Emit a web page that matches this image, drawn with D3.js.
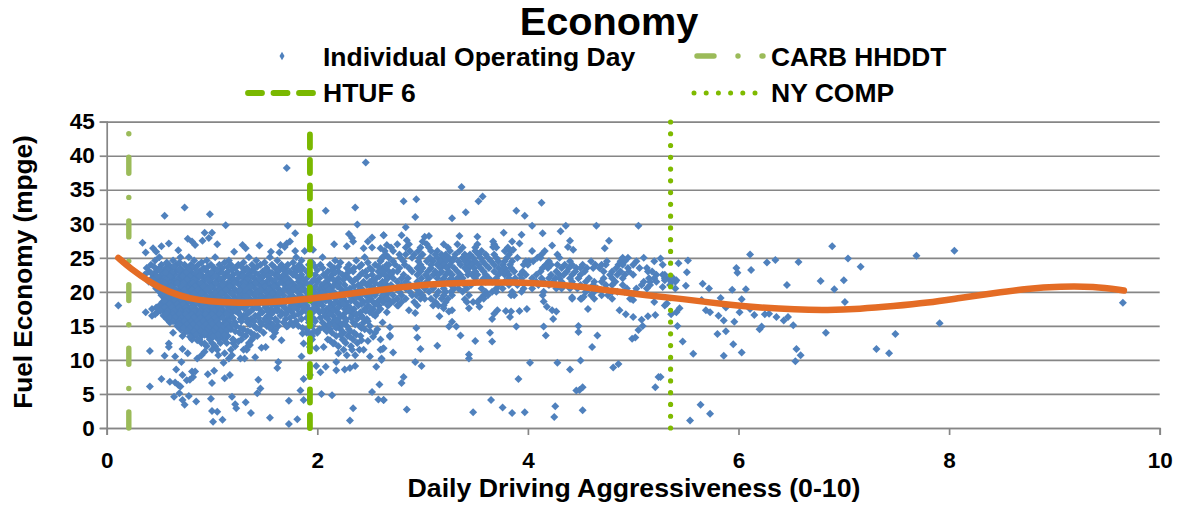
<!DOCTYPE html>
<html><head><meta charset="utf-8">
<script src="https://cdn.jsdelivr.net/npm/d3@7"></script>
<style>html,body{margin:0;background:#fff}svg{display:block}text{font-family:"Liberation Sans",Arial,sans-serif;font-weight:bold;fill:#000}</style>
</head><body><svg id="c" width="1181" height="506"></svg>
<script>
const xTicks=[0,2,4,6,8,10];
const yTicks=[0,5,10,15,20,25,30,35,40,45];
// Scattered operating days: [aggressiveness, mpge]
const outlierDays=[[.11,18],[1.71,38.2],[2.46,39],[.74,32.4],[.55,31.2],[.98,31.4],[2.08,31.9],[2.36,32.4],[1.13,29.8],[1.72,29.7],[2.38,29.9],[.93,28.7],[1,28.7],[1.79,28.6],[.77,27.8],[.97,27.9],[.91,27.5],[.34,27.2],[.59,27.1],[.52,26.7],[.81,27.4],[.84,26.9],[1.05,27],[.44,26.4],[.47,25.9],[.37,25.8],[.68,26.1],[1.29,26.9],[1.32,26.4],[1.45,26.8],[1.21,25.9],[1.65,26.9],[1.71,27.1],[1.74,27.4],[1.69,26.6],[1.56,25.9],[1.64,25.8],[1.79,26],[1.88,26],[1.96,26.2],[2.16,27],[2.28,26.7],[2.3,28.5],[2.34,27.4],[2.33,27.9],[2.52,28],[2.48,27.4],[2.63,28.3],[2.44,26.4],[2.52,26.5],[2.6,26.4],[2.66,26.9],
[.41,11.3],[.55,10.6],[.59,12.4],[.59,11.9],[.65,10.5],[.72,11.6],[.77,11],[.71,9.7],[.66,8.6],[.52,7.2],[.41,6.1],[.6,6.8],[.65,6.7],[.68,6.3],[.7,6.1],[.72,7.8],[.81,8.3],[.84,8.3],[.82,7.5],[.79,7.1],[.76,7],[.64,4.6],[.69,5.1],[.72,4.1],[.74,3.4],[.78,4.7],[.85,3.9],[.96,7.9],[1.02,8.4],[1,6.6],[.99,4.3],[1,2.5],[1.05,2.4],[1.01,.9],[1.1,1.2],[1.12,7.3],[1.17,7.8],[1.19,4.6],[1.22,3.5],[1.23,2.9],[1.32,3.8],[1.37,2.2],[1.55,1.5],[1.44,7.1],[1.46,5.8],[1.43,5.1],[1.62,8.8],[1.63,9.7],[1.73,4],[1.73,.6],[1.81,1.3],[1.84,5.5],[1.87,7.2],[1.87,4.1],[1.93,7.8],[2.04,5],[2.14,4.8],[1.99,9.1],[2.03,8.2],[2.08,9],[2.18,8.5],[2.18,9.7],[2.26,8.6],[2.31,8.8],[2.36,9.1],[2.52,5.3],[2.59,6.4],[2.56,9],[2.58,4.2],[2.63,4.1],[2.34,2.9],[2.31,1.1],
[1.11,9.6],[1.16,10.2],[1.19,10.7],[1.12,11],[1.06,10.7],[1.27,10.2],[1.31,10.2],[1.41,10.4],[1.47,11.8],[1.51,11.9],[1.36,12.2],[1.39,13.3],[1.33,11.5],[1.25,12.7],[1.28,13],[1.2,13],[.86,10.2],[.9,10.7],[.93,11.2],[1,11.5],[.93,12.4],[1.01,13.4],[.93,13.9],[.86,12.9],[.79,13.4],[1.85,10.5],[1.87,12.4],[1.86,13.9],[1.93,13.9],[1.99,11.7],[2.06,11.9],[1.93,11.9],[1.66,12.9],[1.58,13.4],[1.49,14],[1.77,15.1],[1.71,14.9],[1.6,14.4],[2.12,12.9],[2.15,12.4],[2.2,11],[2.28,10.7],[2.33,11.5],[2.36,10.7],[2.17,14.9],[2.25,12.9],[2.31,13.4],[2.44,11.5],[2.42,12.9],[2.48,12.8],[2.53,13.4],[2.5,10.5],[2.6,11.5],[2.63,11.7],[2.61,10.2],[2.69,13.4]];
const middleDays=[[3.37,35.4],[2.82,33.3],[2.94,33.6],[3.53,33.3],[3.57,34],[3.41,31.7],[4.13,33.1],[3.89,31.9],[3.97,31.2],[2.93,31],[3.28,30.8],[2.84,29.5],[4.04,29.7],[4.36,29.7],[4.31,28.9],[4.65,29.7],[5.05,29.7],[2.63,28.3],[2.8,28.3],[2.85,27.6],[3.02,28.1],[3.06,28.2],[3,27.4],[3.35,28.2],[3.52,28.1],[3.77,28.7],[3.94,28.4],[4.14,28.6],[4.77,27.5],[4.4,27.5],[4.23,26.8],[4.38,26.6],[4.43,26.2],[4.73,26.4],[3.85,27.4],[3.92,27.1],[3.67,27.4],[3.67,26.6],[3.86,26.2],
[2.93,9.7],[2.99,9.1],[3.14,12.1],[2.98,11.6],[2.95,13.3],[2.94,14.7],[2.69,14.8],[2.69,13.6],[2.72,11.1],[2.62,11.6],[2.6,13],[2.61,10],[2.82,7.5],[2.8,6.6],[2.63,4.1],[2.85,2.7],[3.48,2.3],[3.65,4.1],[3.76,3],[3.85,2.2],[3.97,2.3],[4.26,3.2],[4.25,1.6],[4.52,2.6],[3.91,7.2],[4.02,9.6],[4.28,9.6],[4.4,8.6],[4.5,9.9],[4.46,5.5],[4.49,5.6],[4.52,6],[4.81,8.9],[4.86,9.4],[5.21,6],[5.24,7.5],[3.44,10.8],[3.44,10.2],[3.36,13.6],[3.5,12.8],[3.66,12.7],[3.64,14],[3.32,14.9],[3.25,14.9],[3.28,15.6],[3.89,14.9],[4.15,14.9],[4.17,13.6],[4.48,15],[4.48,14.1],[4.66,13.6],[4.61,11.9],[4.99,13.1],[5.02,13.3],[5.05,14.4],[5.09,15],[5.08,15.9],[5.14,16.4],[5.21,16.6],[5,18.8],[4.97,19],[4.87,17.3],[4.93,16.7],[5,16.3],[4.57,17.5],[4.51,19],[4.53,19.3],[4.42,19.2],[4.24,16],[4.27,17.1],[4.23,17.3],[4.18,17.8],[4.15,18.6],[3.99,17.5],[3.92,17.2],[3.83,16.3],[3.84,17.1],[3.79,17.2],[3.71,17.3],[3.68,16.8],[3.66,16],[3.44,17.6],[3.54,17.8],[3.4,18.9],[3.16,16.4],[3.25,17.1],[3.28,17.3],[3.2,17.6],[3.1,18],[3.02,19],[2.93,16.9],[2.87,17.3],[2.95,18],[2.77,18],[2.72,18.6],[2.68,18.1]];
const rightDays=[[6.89,26.7],[6.11,25.5],[7.69,25.3],[8.05,26.05],[6.35,24.7],[6.27,24.3],[6.57,24.4],[7.04,24.9],[7.16,23.7],[5.98,23.5],[5.99,22.8],[6.12,23.2],[6.78,21.6],[7,21.7],[6.91,20.4],[6.46,21],[6.07,20.4],[5.94,20.3],[5.66,21.2],[5.72,20.5],[5.52,24.6],[5.43,24.2],[5.51,22.9],[5.5,20.9],[5.41,21.7],[5.38,22],[5.3,22.5],[5.3,21.7],[5.4,20.5],[5.28,20.7],[5.26,24.9],[5.83,19.1],[6.03,18.9],[5.65,18.8],[7.01,18.5],[5.69,17.3],[5.73,17],[5.88,17.7],[6.01,17],[5.81,16.5],[5.86,15.8],[5.96,15.6],[6.11,17.5],[6.15,16.6],[6.25,16.7],[6.29,16.8],[6.36,16.3],[6.43,15.8],[6.47,16.3],[6.52,15.1],[6.22,14.9],[6.2,14.5],[5.8,13.8],[5.88,14.2],[5.95,12.3],[5.86,10.6],[6.03,11.1],[5.57,10.9],[5.47,12.7],[5.42,15],[5.41,17],[5.44,17.6],[5.36,16.7],[5.32,18.3],[6.55,11.6],[6.59,10.7],[6.54,9.8],[6.83,14],[7.31,11.6],[7.43,11],[7.49,13.8],[7.91,15.4],[9.65,18.4],[5.64,3.4],[5.73,2.1],[5.54,1.1],[5.26,7.5]];
// Dense cloud, left part, read row by row: [mpge, aggressiveness...]
const leftCloudRows=[
[25.1,.5,.7,.78,1.03,1.35,1.55,1.8,2.05,2.45,2.62],
[24.6,.46,.63,.83,.95,1.16,1.42,1.62,1.85,2.17,2.37,2.6],
[24,.42,.52,.59,.66,.74,.8,.87,.99,1.07,1.18,1.25,1.38,1.46,1.57,1.66,1.72,1.83,1.92,2.03,2.12,2.3,2.42,2.55,2.66],
[23.5,.38,.5,.56,.62,.7,.77,.84,.92,1.02,1.1,1.22,1.33,1.4,1.52,1.6,1.7,1.78,1.86,2.05,2.16,2.28,2.35,2.5,2.62],
[23,.4,.47,.54,.6,.66,.73,.8,.88,.95,1.01,1.08,1.15,1.3,1.37,1.48,1.54,1.63,1.74,1.8,1.9,2.1,2.2,2.34,2.46,2.58,2.68],
[22.5,.36,.45,.52,.58,.64,.7,.76,.83,.9,.97,1.05,1.13,1.2,1.27,1.34,1.44,1.5,1.6,1.68,1.77,1.85,1.98,2.06,2.14,2.24,2.41,2.52,2.64],
[22,.43,.5,.55,.62,.68,.74,.81,.86,.93,1,1.07,1.11,1.18,1.25,1.31,1.4,1.47,1.55,1.65,1.72,1.83,1.9,2.02,2.12,2.2,2.3,2.38,2.56,2.67],
[21.5,.4,.47,.53,.6,.65,.71,.78,.85,.91,.98,1.04,1.1,1.16,1.23,1.29,1.36,1.43,1.52,1.58,1.67,1.75,1.82,1.95,2,2.09,2.18,2.33,2.44,2.5,2.62],
[21,.45,.51,.57,.63,.69,.75,.8,.87,.94,1.01,1.06,1.13,1.19,1.26,1.33,1.39,1.45,1.54,1.61,1.69,1.78,1.85,1.92,2.04,2.11,2.16,2.26,2.39,2.47,2.59,2.66],
[20.5,.47,.53,.59,.64,.7,.77,.83,.89,.96,1.02,1.08,1.15,1.21,1.28,1.35,1.41,1.49,1.56,1.63,1.71,1.8,1.87,1.94,2.06,2.13,2.22,2.31,2.42,2.54,2.61],
[20,.5,.55,.61,.67,.72,.79,.85,.92,.98,1.05,1.11,1.17,1.24,1.3,1.37,1.44,1.51,1.59,1.66,1.73,1.81,1.89,1.97,2.08,2.15,2.24,2.36,2.49,2.57,2.68],
[19.5,.52,.58,.63,.69,.75,.81,.88,.94,1,1.07,1.13,1.2,1.27,1.33,1.4,1.47,1.53,1.6,1.68,1.76,1.84,1.91,1.99,2.07,2.14,2.2,2.3,2.38,2.46,2.55,2.65],
[19,.55,.6,.66,.71,.77,.84,.9,.97,1.03,1.09,1.16,1.22,1.29,1.36,1.42,1.5,1.57,1.64,1.72,1.79,1.86,1.93,2.01,2.1,2.17,2.25,2.34,2.41,2.51,2.6,2.67],
[18.5,.53,.57,.62,.68,.74,.8,.86,.93,.99,1.06,1.12,1.18,1.25,1.32,1.38,1.46,1.55,1.61,1.7,1.77,1.88,1.95,2.03,2.12,2.19,2.27,2.36,2.44,2.53,2.63],
[18,.5,.56,.64,.7,.76,.82,.89,.95,1.02,1.08,1.14,1.21,1.28,1.34,1.43,1.52,1.6,1.67,1.75,1.83,1.9,1.98,2.05,2.13,2.22,2.29,2.39,2.48,2.58],
[17.5,.43,.52,.58,.65,.72,.78,.85,.91,.97,1.04,1.1,1.17,1.24,1.31,1.39,1.45,1.56,1.62,1.73,1.81,1.92,2,2.09,2.16,2.26,2.35,2.45,2.53,2.6],
[17,.37,.48,.55,.61,.67,.73,.79,.86,.92,.98,1.05,1.12,1.19,1.25,1.35,1.48,1.58,1.66,1.76,1.85,1.96,2.02,2.1,2.19,2.27,2.32,2.41,2.5,2.57,2.66],
[16.5,.43,.54,.6,.66,.72,.78,.84,.9,.96,1.03,1.1,1.17,1.3,1.41,1.53,1.65,1.78,1.93,2.07,2.15,2.24,2.33,2.42,2.55],
[16,.57,.62,.68,.74,.8,.86,.93,1,1.06,1.15,1.27,1.37,1.5,1.6,1.7,1.85,1.97,2.1,2.17,2.27,2.38,2.47],
[15.5,.6,.66,.71,.77,.83,.89,.95,1.02,1.12,1.22,1.34,1.46,1.55,1.68,1.75,1.92,2.05,2.14,2.21,2.34,2.44,2.62],
[15,.67,.73,.79,.85,.91,.97,1.04,1.1,1.17,1.23,1.4,1.52,1.63,1.72,1.82,1.95,2.08,2.18,2.28,2.4,2.5],
[14.5,.7,.76,.82,.88,.94,1,1.07,1.13,1.18,1.3,1.45,1.57,1.9,2.02,2.12,2.22,2.3,2.45,2.57],
[14,.63,.74,.8,.86,.92,.98,1.05,1.11,1.26,1.37,1.6,1.9,2,2.14,2.25,2.35,2.55],
[13.5,.72,.83,.9,.96,1.03,1.09,1.15,1.32,1.43,1.95,2.18,2.29,2.41],
[13,.81,.88,.98,1.06,1.12,1.2,1.38,1.95,2.1,2.24,2.34],
[12.5,.9,1,1.08,1.14,1.2,1.35,2.16,2.27,2.38],
[12,.95,1.03,1.22,1.34,2.2,2.32],
[11.5,1.05,1.18,1.3,2.25,2.4]];
// Second pass over the same cloud, between the rows above
const leftCloudInfill=[
[24.3,.57,.69,.9,1.12,1.3,1.5,1.77,1.95,2.22,2.48],
[23.7,.45,.64,.81,.96,1.15,1.28,1.43,1.65,1.81,1.98,2.2,2.4,2.58],
[23.2,.5,.58,.69,.78,.91,1.05,1.19,1.34,1.51,1.68,1.84,2,2.14,2.3,2.52],
[22.8,.42,.56,.62,.75,.86,.99,1.1,1.24,1.41,1.57,1.71,1.93,2.17,2.29,2.43,2.6],
[22.3,.48,.6,.72,.79,.88,.95,1.03,1.16,1.29,1.37,1.53,1.63,1.8,2.08,2.27,2.47,2.59],
[21.8,.44,.56,.67,.76,.83,.96,1.09,1.21,1.33,1.45,1.6,1.7,1.87,1.97,2.15,2.25,2.36,2.53],
[21.3,.49,.55,.67,.73,.82,.89,1.03,1.11,1.21,1.31,1.41,1.49,1.64,1.73,1.89,2.07,2.21,2.43,2.55],
[20.8,.54,.61,.72,.84,.92,.99,1.1,1.17,1.3,1.37,1.5,1.59,1.75,1.83,1.98,2.09,2.19,2.35,2.51,2.63],
[20.3,.52,.57,.66,.74,.81,.87,.95,1.07,1.13,1.26,1.33,1.46,1.54,1.68,1.77,1.85,2.02,2.11,2.28,2.4,2.6],
[19.8,.54,.6,.69,.75,.83,.9,1.03,1.09,1.19,1.35,1.42,1.57,1.64,1.74,1.93,2.04,2.17,2.33,2.43,2.52],
[19.2,.57,.64,.73,.86,.95,1.05,1.14,1.25,1.33,1.46,1.54,1.62,1.75,1.82,1.96,2.12,2.22,2.37,2.49,2.63],
[18.7,.55,.65,.71,.78,.89,.96,1.02,1.15,1.22,1.36,1.43,1.52,1.67,1.74,1.84,2,2.08,2.24,2.32,2.48,2.58],
[18.2,.6,.67,.73,.84,.92,.98,1.1,1.18,1.31,1.37,1.49,1.57,1.64,1.79,1.86,2.02,2.16,2.25,2.42,2.55],
[17.7,.47,.55,.62,.69,.75,.82,.94,1.01,1.07,1.2,1.27,1.42,1.51,1.69,1.78,1.87,1.97,2.12,2.2,2.31,2.5],
[17.2,.51,.58,.64,.7,.76,.83,.89,.95,1.02,1.08,1.15,1.22,1.37,1.53,1.62,1.72,1.89,2.05,2.14,2.3,2.46],
[16.7,.46,.57,.63,.69,.75,.81,.88,.94,1,1.07,1.14,1.26,1.33,1.45,1.56,1.7,1.82,2.12,2.21,2.37,2.53],
[16.2,.6,.65,.71,.77,.83,.89,.97,1.03,1.1,1.2,1.32,1.44,1.55,1.74,1.9,2.03,2.21,2.32,2.43],
[15.7,.63,.69,.74,.8,.86,.92,.99,1.05,1.16,1.28,1.4,1.51,1.62,1.8,1.98,2.18,2.27,2.48],
[15.2,.69,.76,.82,.88,.94,1,1.07,1.14,1.2,1.36,1.47,1.58,1.78,2.11,2.24,2.36],
[14.7,.73,.79,.85,.91,.97,1.03,1.1,1.16,1.27,1.42,1.55,1.86,2.06,2.18,2.42],
[14.2,.77,.83,.89,.95,1.01,1.08,1.14,1.22,1.34,1.97,2.09,2.31,2.5],
[13.7,.85,.93,.99,1.06,1.12,1.29,1.4,2.22,2.37]];
// Dense band, middle part, read row by row: [mpge, aggressiveness...]
const middleBandRows=[
[27,2.76,2.87,3.04,3.2,3.33,3.52,3.68],
[26.5,2.7,2.84,2.98,3.06,3.24,3.38,3.5,3.7,3.81],
[26,2.64,2.72,2.88,2.96,3.08,3.14,3.26,3.35,3.5,3.56,3.78,3.84,4.04,4.16],
[25.5,2.65,2.78,2.84,2.92,3,3.12,3.18,3.22,3.31,3.4,3.45,3.53,3.6,3.68,3.82,4.13,4.28],
[25,2.62,2.68,2.79,2.9,2.97,3.07,3.14,3.19,3.25,3.3,3.38,3.42,3.48,3.55,3.62,3.7,3.8,3.9,4.09,4.12,4.3,4.9,4.95,5.1],
[24.5,2.6,2.72,2.82,2.96,3.04,3.1,3.17,3.22,3.28,3.34,3.4,3.44,3.5,3.57,3.65,3.72,3.78,3.85,3.98,4.01,4.05,4.2,4.4,4.6,4.75,4.88,4.92,5.03,5.2],
[24,2.68,2.74,2.83,2.98,3.08,3.14,3.2,3.26,3.36,3.43,3.47,3.53,3.6,3.68,3.76,3.83,3.96,4,4.17,4.22,4.28,4.35,4.42,4.52,4.64,4.7,4.74,4.86,4.9,5,5.28],
[23.5,2.65,2.78,2.87,2.95,3,3.08,3.17,3.23,3.3,3.4,3.44,3.49,3.55,3.63,3.72,3.78,3.84,4.14,4.19,4.32,4.39,4.46,4.5,4.56,4.62,4.68,4.84,4.95,5.06,5.13],
[23,2.62,2.72,2.76,2.9,2.98,3.05,3.12,3.18,3.25,3.33,3.43,3.5,3.58,3.68,3.75,3.8,3.87,3.95,4.12,4.27,4.37,4.45,4.54,4.72,4.8,4.88,4.96,5.14,5.18],
[22.5,2.7,2.82,2.95,3.03,3.1,3.15,3.22,3.28,3.36,3.43,3.47,3.52,3.6,3.72,3.78,3.82,3.93,3.98,4.08,4.22,4.3,4.34,4.42,4.5,4.78,4.85,4.92,5,5.22,5.28],
[22,2.72,2.8,2.86,2.99,3.06,3.14,3.2,3.27,3.33,3.38,3.5,3.58,3.63,3.7,3.82,3.88,3.94,4.04,4.13,4.2,4.26,4.3,4.4,4.48,4.58,4.72,4.8,4.9,5.15,5.2,5.3,5.34],
[21.5,2.64,2.76,2.84,2.95,3.04,3.18,3.24,3.3,3.36,3.5,3.55,3.6,3.66,3.78,3.86,3.95,4.08,4.15,4.24,4.32,4.42,4.55,4.63,4.7,4.83,5.1,5.16,5.22,5.36,5.4],
[21,2.7,2.8,2.88,3,3.12,3.27,3.4,3.46,3.72,3.82,3.9,4.1,4.2,4.27,4.42,4.5,4.62,4.74,4.8,4.9,5.08,5.16,5.35],
[20.5,2.66,2.75,2.84,2.94,3.02,3.1,3.2,3.3,3.34,3.42,3.56,3.7,3.76,3.96,4.04,4.27,4.32,4.4,4.47,4.58,4.66,4.74,4.94,5.03,5.13],
[20,2.68,2.78,2.88,2.97,3.06,3.15,3.22,3.27,3.38,3.6,3.66,3.7,3.85,3.94,4.15,4.55,4.63,4.8,4.85,4.92,5.02],
[19.5,2.62,2.72,2.8,2.9,2.94,3,3.13,3.2,3.28,3.44,3.58,3.62,3.84,3.87,4.14,4.6,4.7,4.76],
[19,2.66,2.76,2.84,2.98,3.08,3.18,3.24,3.55,3.58,4.42,4.5,4.63,4.8,4.98],
[18.5,2.62,2.7,2.8,2.92,3.12,3.22,3.42,3.48,3.52,5.2],
[18,2.67,2.76,3.15,3.2,5.3]];
const trendX=[.11,.22,.41,.6,.79,.98,1.2,1.42,1.68,1.93,2.25,2.6,2.91,3.23,3.55,3.87,4.18,4.5,4.81,5.13,5.45,5.9,6.21,6.53,6.85,7.15,7.47,7.8,8.1,8.42,8.74,9.06,9.37,9.66];
const trendY=[25,23.5,21.4,19.9,19,18.6,18.4,18.4,18.6,19,19.6,20.3,20.9,21.25,21.4,21.4,21.2,20.8,20.1,19.5,19,18.1,17.7,17.4,17.3,17.5,17.9,18.4,19.1,19.8,20.5,20.8,20.8,20.2];
const carbLine=[.21,43.4], htufLine=[1.93,43.4], nyLine=[5.355,45];
const colors={day:"#4F81BD",carb:"#9BBB59",htuf:"#7AB800",ny:"#7FBA00",trend:"#E46C25",grid:"#868686"};

const svg=d3.select("#c");
const x=d3.scaleLinear().domain([0,10]).range([106.7,1159.7]);
const y=d3.scaleLinear().domain([0,45]).range([428,121.7]);

const gy=svg.append("g").attr("transform","translate(106.7,0)")
  .call(d3.axisLeft(y).tickValues(yTicks).tickSize(7).tickPadding(5).tickFormat(d3.format("d")));
const gx=svg.append("g").attr("transform","translate(0,428)")
  .call(d3.axisBottom(x).tickValues(xTicks).tickSize(7).tickPadding(17).tickFormat(d3.format("d")));
gy.selectAll(".tick").append("line").attr("class","g").attr("x1",0).attr("x2",1053);
[gx,gy].forEach(g=>{
  g.selectAll("line").attr("stroke",colors.grid).attr("stroke-width",1.7);
  g.select(".domain").attr("stroke",colors.grid).attr("stroke-width",1.7);
  g.selectAll("text").style("font-size","22.5px").style("font-family",'"Liberation Sans"').style("font-weight","bold");
});

const cloudPoints=rows=>rows.flatMap(r=>r.slice(1).map(v=>[v,r[0]]));
const allDays=[...cloudPoints(leftCloudRows),...cloudPoints(leftCloudInfill),...cloudPoints(middleBandRows),...outlierDays,...middleDays,...rightDays];
const diamond=d3.symbol().type(d3.symbolSquare).size(32);
svg.append("g").selectAll("path").data(allDays).join("path")
  .attr("d",diamond).attr("fill",colors.day)
  .attr("transform",d=>`translate(${x(d[0])},${y(d[1])}) rotate(45)`);

function vline(spec,color,w,dash){
  svg.append("line").attr("x1",x(spec[0])).attr("x2",x(spec[0])).attr("y1",y(0)).attr("y2",y(spec[1]))
    .attr("stroke",color).attr("stroke-width",w).attr("stroke-linecap","round").attr("stroke-dasharray",dash);
}
vline(carbLine,colors.carb,5.4,"16 23.5 0 24.2");
vline(htufLine,colors.htuf,5.8,"13 12.5");
vline(nyLine,colors.ny,5.2,"0 11.77");

const line=d3.line().x(d=>x(d[0])).y(d=>y(d[1])).curve(d3.curveBasis);
svg.append("path").attr("d",line(trendX.map((v,i)=>[v,trendY[i]])))
  .attr("fill","none").attr("stroke",colors.trend).attr("stroke-width",6.5).attr("stroke-linecap","round");

const label=(t,px,py,size,anchor)=>svg.append("text").text(t).attr("x",px).attr("y",py).attr("font-size",size).attr("text-anchor",anchor||"start");
label("Economy",609,35,39.7,"middle");
label("Daily Driving Aggressiveness (0-10)",634,497,26.7,"middle");
svg.append("text").text("Fuel Economy (mpge)").attr("transform","translate(32,272) rotate(-90)").attr("font-size",26.2).attr("text-anchor","middle");
label("Individual Operating Day",323,66,26.5);
label("CARB HHDDT",771,66,26.3);
label("HTUF 6",323,102,26.5);
label("NY COMP",771,102,26.5);

svg.append("path").attr("d",d3.symbol().type(d3.symbolDiamond).size(22)).attr("fill",colors.day).attr("transform","translate(282,56)");
const legendLine=(a,b,yy,c,w,dash)=>svg.append("line").attr("x1",a).attr("x2",b).attr("y1",yy).attr("y2",yy).attr("stroke",c).attr("stroke-width",w).attr("stroke-linecap","round").attr("stroke-dasharray",dash);
legendLine(697,763,56,colors.carb,5.4,"17 24 0 24");
legendLine(248,313,93,colors.htuf,5.8,"14 11.5");
legendLine(694,758,93,colors.ny,5,"0 12.2");
</script></body></html>
